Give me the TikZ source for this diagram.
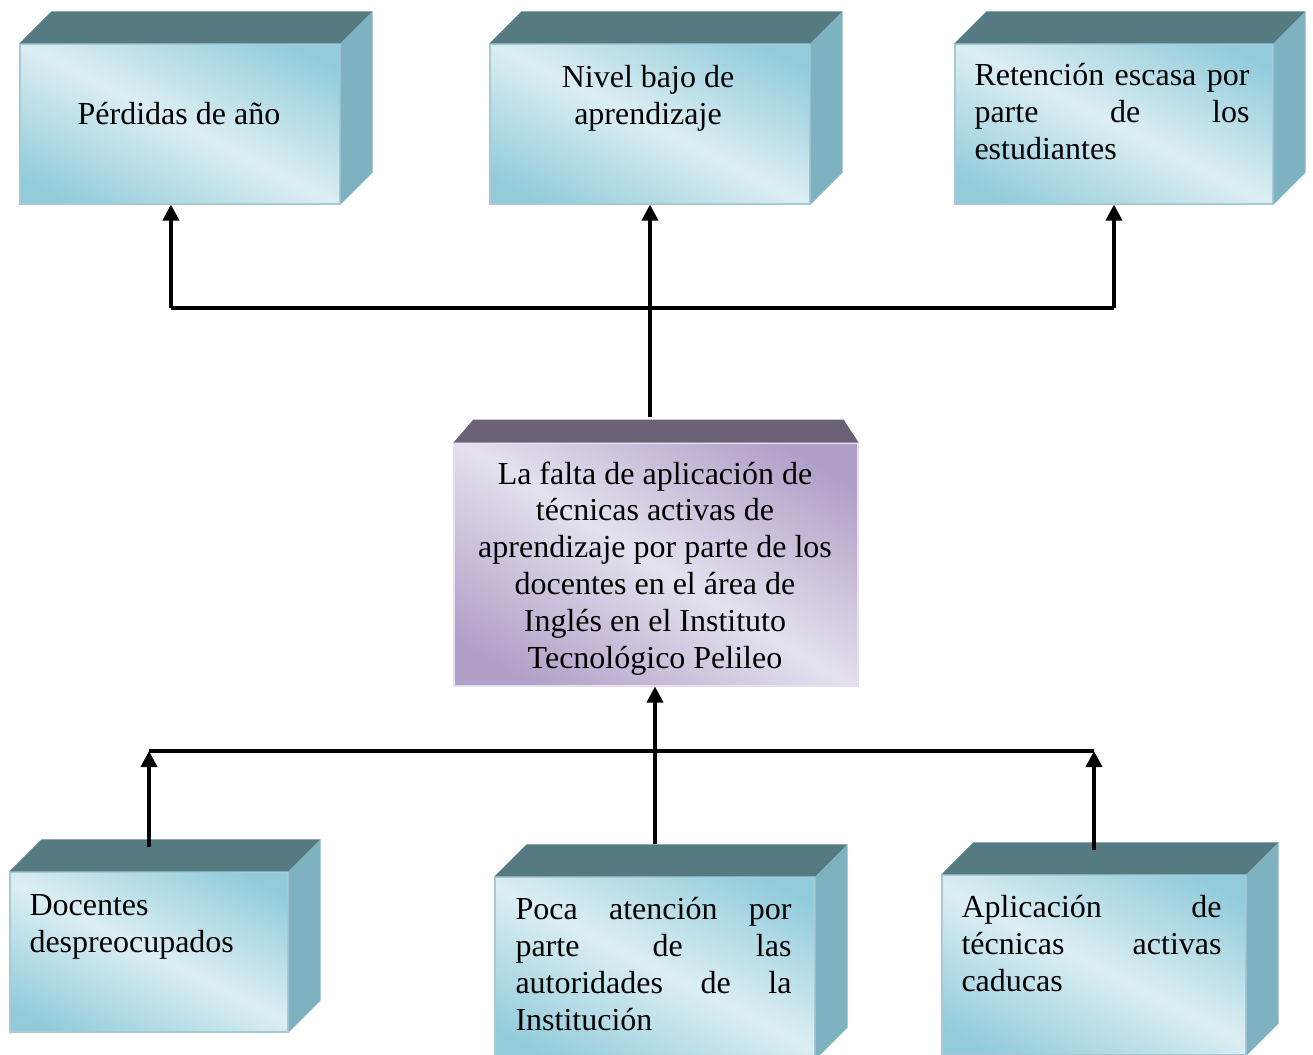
\documentclass[tikz,border=0pt]{standalone}
\usepackage{fontspec}
\setmainfont{Liberation Serif}
\usepackage{xcolor}
\usetikzlibrary{arrows.meta}
\definecolor{bluelt}{HTML}{DCEEF3}
\definecolor{bluedk}{HTML}{92CCDB}
\definecolor{bluetop}{HTML}{557A81}
\definecolor{blueside}{HTML}{7FB2C0}
\definecolor{bluerim}{HTML}{A6CAD5}
\definecolor{purlt}{HTML}{E6E0EE}
\definecolor{purdk}{HTML}{B09FC7}
\definecolor{purtop}{HTML}{6A6177}
\pgfdeclarehorizontalshading{bluefront}{100bp}{color(0bp)=(bluedk); color(22bp)=(bluedk); color(50bp)=(bluelt); color(78bp)=(bluedk); color(100bp)=(bluedk)}
\pgfdeclarehorizontalshading{purfront}{100bp}{color(0bp)=(purdk); color(22bp)=(purdk); color(50bp)=(purlt); color(78bp)=(purdk); color(100bp)=(purdk)}
\newcommand{\jline}[2]{\makebox[#1][s]{#2}}

\begin{document}
\begin{tikzpicture}[x=0.375pt,y=-0.375pt,
  cube/.style={draw=bluerim,line width=0.4pt,shading=bluefront,shading angle=63,inner sep=0pt},
  core/.style={draw=purlt,line width=0.4pt,shading=purfront,shading angle=58,inner sep=0pt},
  txt/.style={inner sep=0pt,font=\fontsize{12}{13.8}\selectfont},
  conn/.style={line width=1.4pt,-{Triangle[width=6pt,length=6pt]}},
  bar/.style={line width=1.4pt}]
  \useasboundingbox (0,0) rectangle (1313,1055);
  \clip (0,0) rectangle (1313,1055);

  \node[cube,minimum width=120pt,minimum height=60pt] (perdidas) at (180,124) {};
  \node[cube,minimum width=120pt,minimum height=60pt] (nivel) at (650,124) {};
  \node[cube,minimum width=119.25pt,minimum height=60pt] (retencion) at (1114,124) {};
  \node[core,minimum width=151.5pt,minimum height=91.1pt] (falta) at (656,564.5) {};
  \node[cube,minimum width=104.25pt,minimum height=60pt] (docentes) at (149,952) {};
  \node[cube,minimum width=120pt,minimum height=68.25pt] (atencion) at (655,968) {};
  \node[cube,minimum width=114pt,minimum height=67.5pt] (tecnicas) at (1094,965) {};

  \foreach \b in {perdidas,nivel,retencion,docentes,atencion,tecnicas}{
    \fill[bluetop] (\b.north west) -- ++(32,-32) -- ([shift={(32,-32)}]\b.north east) -- (\b.north east) -- cycle;
    \fill[blueside] (\b.north east) -- ++(32,-32) -- ([shift={(32,-32)}]\b.south east) -- (\b.south east) -- cycle;
  }
  \fill[purtop] (falta.north west) -- ++(20,-23) -- ([shift={(-15,-23)}]falta.north east) -- (falta.north east) -- cycle;

  \node[txt,anchor=base] (tperdidas) at (179,124) {Pérdidas de año};
  \node[txt,anchor=base,align=center] (tnivel) at (648,124) {Nivel bajo de\\aprendizaje};
  \node[txt,anchor=base west,align=left] (tretencion) at (974,159) {\jline{103.1pt}{Retención escasa por}\\\jline{103.1pt}{parte de los}\\estudiantes};
  \node[txt,anchor=base,align=center] (tfalta) at (655,668) {La falta de aplicación de\\técnicas activas de\\aprendizaje por parte de los\\docentes en el área de\\Inglés en el Instituto\\Tecnológico Pelileo};
  \node[txt,anchor=base west,align=left] (tdocentes) at (29,952) {Docentes\\despreocupados};
  \node[txt,anchor=base west,align=left] (tatencion) at (515,1030) {\jline{103.5pt}{Poca atención por}\\\jline{103.5pt}{parte de las}\\\jline{103.5pt}{autoridades de la}\\Institución};
  \node[txt,anchor=base west,align=left] (ttecnicas) at (961,991) {\jline{97.5pt}{Aplicación de}\\\jline{97.5pt}{técnicas activas}\\caducas};

  \coordinate (up) at (0,308);
  \coordinate (down) at (0,751);
  \coordinate (faltatop) at ([yshift=9.75pt]falta.north);
  \draw[conn] (nivel.south |- faltatop) -- (nivel.south);
  \draw[bar] ([xshift=-3.4pt]up -| perdidas.south) -- (up -| retencion.south);
  \draw[conn] ([xshift=-3.4pt]up -| perdidas.south) -- ([xshift=-3.4pt]perdidas.south);
  \draw[conn] (up -| retencion.south) -- (retencion.south);

  \draw[bar] (down -| docentes.north) -- (down -| tecnicas.north);
  \draw[conn] ([yshift=9pt]docentes.north) -- (down -| docentes.north);
  \draw[conn] ([yshift=9pt]tecnicas.north) -- (down -| tecnicas.north);
  \draw[conn] ([yshift=12pt]atencion.north) -- (atencion.north |- falta.south);
\end{tikzpicture}
\end{document}
